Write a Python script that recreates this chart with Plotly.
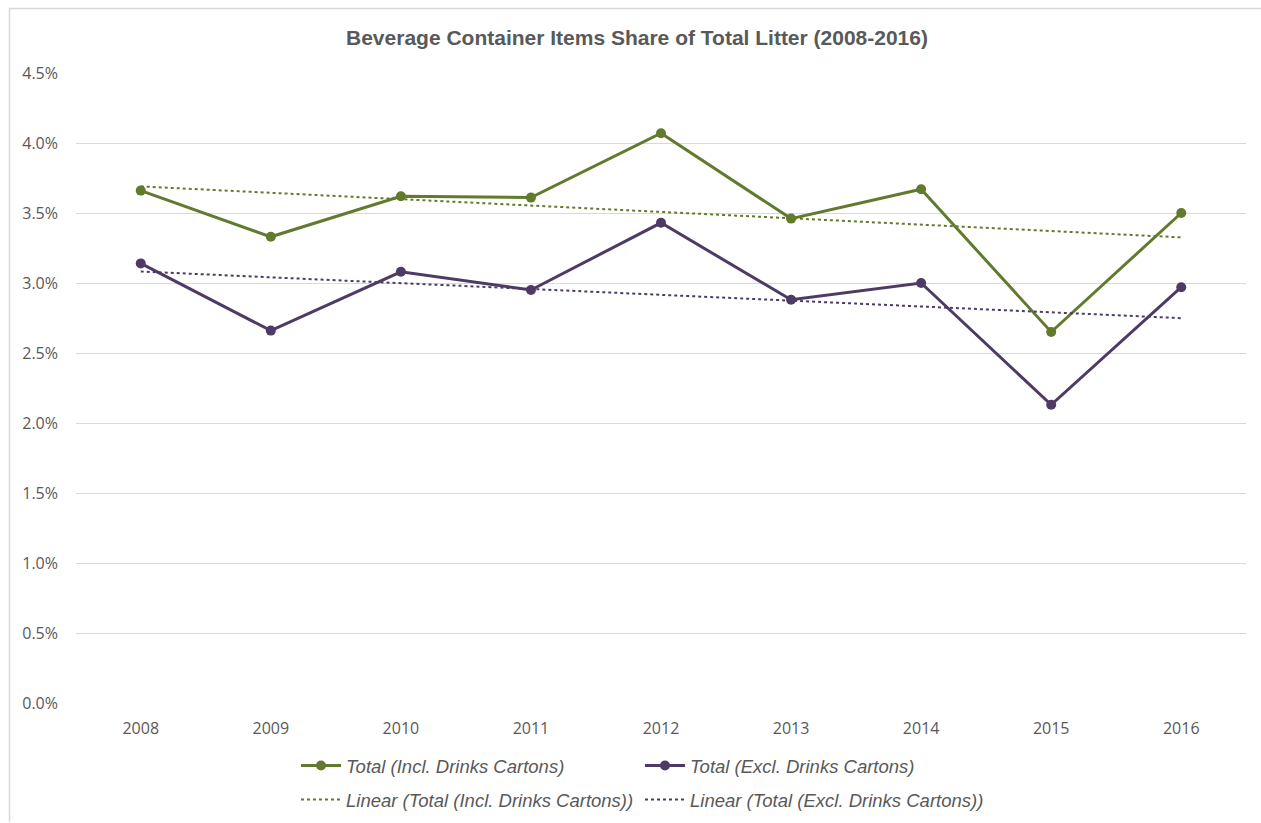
import numpy as np
import plotly.graph_objects as go

# Share of total litter made up of beverage container items (%)
years = ["2008", "2009", "2010", "2011", "2012", "2013", "2014", "2015", "2016"]
incl_cartons = [3.66, 3.33, 3.62, 3.61, 4.07, 3.46, 3.67, 2.65, 3.50]
excl_cartons = [3.14, 2.66, 3.08, 2.95, 3.43, 2.88, 3.00, 2.13, 2.97]
y_ticks = [0.0, 0.5, 1.0, 1.5, 2.0, 2.5, 3.0, 3.5, 4.0, 4.5]
y_tick_labels = [f"{v:.1f}%" for v in y_ticks]

GREEN = "#627a2e"
PURPLE = "#4d3b66"
GRID = "#d9d9d9"
TEXT = "#595959"

W, H = 1261, 823
L, R, T, B = 76, 15, 73, 120


def linear_trend(values):
    idx = np.arange(len(values))
    slope, intercept = np.polyfit(idx, values, 1)
    return list(intercept + slope * idx)


fig = go.Figure()

fig.add_trace(go.Scatter(
    x=years, y=incl_cartons, mode="lines+markers",
    name="Total (Incl. Drinks Cartons)",
    line=dict(color=GREEN, width=3), marker=dict(color=GREEN, size=10),
    legend="legend",
))
fig.add_trace(go.Scatter(
    x=years, y=excl_cartons, mode="lines+markers",
    name="Total (Excl. Drinks Cartons)",
    line=dict(color=PURPLE, width=3), marker=dict(color=PURPLE, size=10),
    legend="legend",
))
fig.add_trace(go.Scatter(
    x=years, y=linear_trend(incl_cartons), mode="lines",
    name="Linear (Total (Incl. Drinks Cartons))",
    line=dict(color=GREEN, width=2, dash="dot"),
    legend="legend2",
))
fig.add_trace(go.Scatter(
    x=years, y=linear_trend(excl_cartons), mode="lines",
    name="Linear (Total (Excl. Drinks Cartons))",
    line=dict(color=PURPLE, width=2, dash="dot"),
    legend="legend2",
))

pw, ph = W - L - R, H - T - B


def px_x(p):
    return (p - L) / pw


def px_y(p):
    return (H - B - p) / ph


legend_font = dict(family="Liberation Sans Narrow, Arial Narrow, sans-serif",
                   size=18.5, color=TEXT, style="italic")
tick_font = dict(family="Open Sans, sans-serif", size=16, color=TEXT)

legend_common = dict(
    orientation="h", xref="container", yref="container",
    x=296 / W, xanchor="left", yanchor="middle",
    font=legend_font, entrywidth=289, entrywidthmode="pixels",
    itemwidth=40, bgcolor="rgba(0,0,0,0)", tracegroupgap=0,
)

fig.update_layout(
    width=W, height=H,
    margin=dict(l=L, r=R, t=T, b=B, autoexpand=False),
    paper_bgcolor="white", plot_bgcolor="white",
    title=dict(
        text="<b>Beverage Container Items Share of Total Litter (2008-2016)</b>",
        x=637 / W, xanchor="center", xref="container",
        y=1 - 38 / H, yanchor="middle", yref="container",
        font=dict(family="Liberation Sans Narrow, Arial Narrow, sans-serif",
                  size=21, color=TEXT),
    ),
    xaxis=dict(
        type="category", showgrid=False, showline=False, zeroline=False,
        ticks="", tickfont=tick_font, ticklabelstandoff=14,
    ),
    yaxis=dict(
        range=[0, 4.5], tickmode="array", tickvals=y_ticks, ticktext=y_tick_labels,
        showgrid=True, gridcolor=GRID, gridwidth=1, zeroline=False,
        showline=False, ticks="", tickfont=tick_font, ticklabelstandoff=17,
    ),
    legend=dict(legend_common, y=1 - 766 / H),
    legend2=dict(legend_common, y=1 - 800 / H),
    showlegend=True,
)

# Chart-area frame (top and left edges)
fig.add_shape(type="line", xref="paper", yref="paper",
              x0=px_x(9), x1=px_x(1261), y0=px_y(8.5), y1=px_y(8.5),
              line=dict(color=GRID, width=1.5))
fig.add_shape(type="line", xref="paper", yref="paper",
              x0=px_x(9.5), x1=px_x(9.5), y0=px_y(8), y1=px_y(822),
              line=dict(color=GRID, width=1.5))

fig.write_html("out.html")
